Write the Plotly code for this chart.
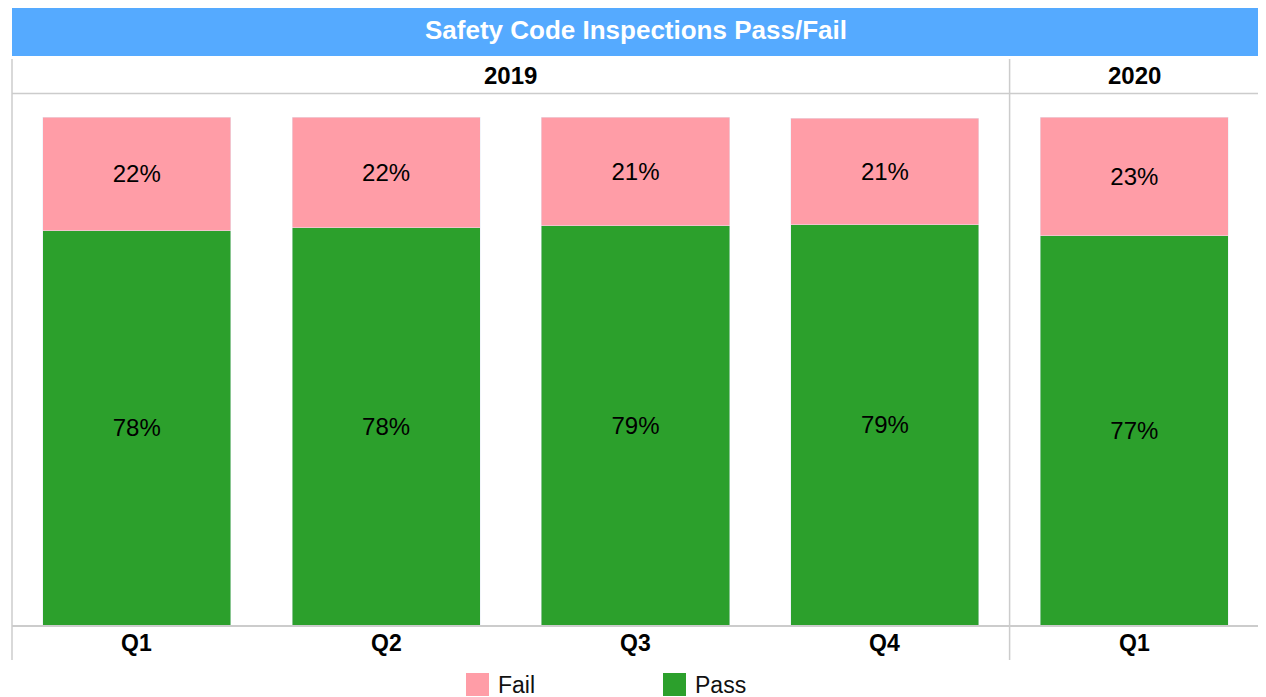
import plotly.graph_objects as go

# ---- data ----
categories = ["2019 Q1", "2019 Q2", "2019 Q3", "2019 Q4", "2020 Q1"]
quarter_labels = ["Q1", "Q2", "Q3", "Q4", "Q1"]
years = ["2019", "2020"]
year_spans = [(0, 3), (4, 4)]  # category index ranges per year
pass_pct = [77.6, 78.2, 78.6, 78.8, 76.6]
fail_pct = [22.4, 21.8, 21.4, 21.0, 23.4]
title_text = "Safety Code Inspections Pass/Fail"

PASS_COLOR = "#2ca02c"
FAIL_COLOR = "#ff9da7"
GRID = "#cccccc"
FONT = "Liberation Sans, Arial, sans-serif"

W, H = 1266, 697
OFF = 8  # default page body margin
ML, MR, MT, MB = 4, 15, 109, 80
PW = W - ML - MR
PH = H - MT - MB


def px_x(p):
    return (p - OFF - ML) / PW


def px_y(p):
    return (MT + PH - (p - OFF)) / PH


fig = go.Figure()
fig.add_trace(go.Bar(
    x=categories, y=pass_pct, name="Pass", marker_color=PASS_COLOR,
    texttemplate="%{y:.0f}%", textposition="inside", insidetextanchor="middle",
    textangle=0, textfont=dict(size=24, color="black", family=FONT),
    showlegend=False,
))
fig.add_trace(go.Bar(
    x=categories, y=fail_pct, name="Fail", marker_color=FAIL_COLOR,
    texttemplate="%{y:.0f}%", textposition="inside", insidetextanchor="middle",
    textangle=0, textfont=dict(size=24, color="black", family=FONT),
    showlegend=False,
))

n = len(categories)
shapes = []
annotations = []

# title bar
shapes.append(dict(type="rect", xref="paper", yref="paper",
                   x0=px_x(12), x1=px_x(1261), y0=px_y(56), y1=px_y(6),
                   fillcolor="#55aaff", line_width=0, layer="below"))
annotations.append(dict(text="<b>%s</b>" % title_text, xref="paper", yref="paper",
                        x=px_x(636), y=px_y(30), xanchor="center", yanchor="middle",
                        showarrow=False,
                        font=dict(size=26, color="white", family=FONT)))

# header row: vertical separators and bottom line
sep_positions = [0.0] + [(s[1] + 1) / n for s in year_spans]
for xp in sep_positions:
    shapes.append(dict(type="line", xref="paper", yref="paper",
                       x0=xp, x1=xp, y0=px_y(660), y1=px_y(59),
                       line=dict(color=GRID, width=1.5)))
shapes.append(dict(type="line", xref="paper", yref="paper",
                   x0=0, x1=1, y0=px_y(93.5), y1=px_y(93.5),
                   line=dict(color=GRID, width=1.5)))
for yr, (a, b) in zip(years, year_spans):
    annotations.append(dict(text="<b>%s</b>" % yr, xref="paper", yref="paper",
                            x=(a + b + 1) / 2 / n, y=px_y(76),
                            xanchor="center", yanchor="middle", showarrow=False,
                            font=dict(size=24, color="black", family=FONT)))

# quarter labels under the bars
for cat, q in zip(categories, quarter_labels):
    annotations.append(dict(text="<b>%s</b>" % q, xref="x", yref="paper",
                            x=cat, y=px_y(643), xanchor="center", yanchor="middle",
                            showarrow=False,
                            font=dict(size=23, color="black", family=FONT)))

# legend (manual, large swatches)
legend_items = [("Fail", FAIL_COLOR, 466), ("Pass", PASS_COLOR, 663)]
for name, col, x0 in legend_items:
    shapes.append(dict(type="rect", xref="paper", yref="paper",
                       x0=px_x(x0), x1=px_x(x0 + 23), y0=px_y(696), y1=px_y(673),
                       fillcolor=col, line_width=0))
    annotations.append(dict(text=name, xref="paper", yref="paper",
                            x=px_x(x0 + 30), y=px_y(685), xanchor="left",
                            yanchor="middle", showarrow=False,
                            font=dict(size=23, color="#111111", family=FONT)))

fig.update_layout(
    barmode="stack",
    bargap=0.246,
    width=W, height=H,
    margin=dict(l=ML, r=MR, t=MT, b=MB, pad=0),
    plot_bgcolor="white", paper_bgcolor="white",
    showlegend=False,
    shapes=shapes,
    annotations=annotations,
    font=dict(family=FONT),
)
fig.update_xaxes(
    type="category",
    showticklabels=False,
    showline=True, linecolor=GRID, linewidth=1.5,
    showgrid=False, ticks="", zeroline=False,
)
fig.update_yaxes(range=[0, 100], visible=False, showgrid=False)

fig.write_html("out.html")
